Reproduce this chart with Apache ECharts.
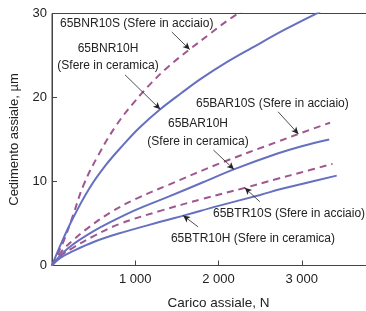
<!DOCTYPE html>
<html>
<head>
<meta charset="utf-8">
<script src="https://cdn.jsdelivr.net/npm/echarts@6/dist/echarts.min.js"></script>
<style>
  html, body { margin: 0; padding: 0; background: #fff; }
  #chart { width: 366px; height: 311px; }
</style>
</head>
<body>
<div id="chart"></div>
<script>
// Valori: [carico N, cedimento µm]
const bnr10s = [[0, 0], [70, 1.4], [140, 2.9], [250, 5.9], [380, 9.6], [560, 13.2], [780, 16.8], [1000, 19.6], [1200, 21.8], [1400, 23.7], [1650, 25.7], [1900, 27.6], [2100, 29.1], [2280, 30.3]];
const bnr10h = [[0, 0], [100, 2.4], [250, 5.6], [450, 9.2], [650, 12.0], [850, 14.3], [1050, 16.4], [1300, 18.6], [1550, 20.5], [1800, 22.3], [2100, 24.2], [2400, 25.9], [2800, 28.1], [3220, 30.2]];
const bar10s = [[0, 0], [100, 1.5], [250, 3.0], [450, 4.6], [700, 6.3], [1000, 7.9], [1400, 9.6], [2000, 12.1], [2700, 14.7], [3000, 15.8], [3340, 17.0]];
const bar10h = [[0, 0], [100, 1.2], [250, 2.5], [500, 4.1], [750, 5.4], [1000, 6.6], [1400, 8.2], [1800, 9.85], [2200, 11.5], [2700, 13.3], [3000, 14.2], [3330, 15.0]];
const btr10s = [[0, 0], [100, 1.1], [250, 2.1], [500, 3.5], [800, 4.9], [1300, 6.5], [1800, 7.9], [2300, 9.2], [2700, 10.3], [3000, 11.1], [3370, 12.1]];
const btr10h = [[0, 0], [100, 0.9], [250, 1.7], [500, 2.8], [800, 3.8], [1300, 5.2], [1600, 6.0], [2000, 7.1], [2500, 8.4], [2750, 9.1], [3000, 9.7], [3420, 10.7]];

const yTicks = [0, 10, 20, 30];
const xTicks = [1000, 2000, 3000];

// frecce: [partenza, punta] in coordinate dei dati
const arrows = {
    bnr10s: [[1439, 27.8], [1655, 25.7]],
    bnr10h: [[877, 22.7], [1300, 18.6]],
    bar10s: [[2716, 18.3], [2960, 15.65]],
    bar10h: [[1939, 13.75], [2185, 11.45]],
    btr10s: [[2496, 7.6], [2316, 9.25]],
    btr10h: [[1755, 4.6], [1575, 5.95]]
};

const blue = '#6670c0';
const mauve = '#a0568e';

function curve(name, data, dashed, arrow) {
    return {
        name: name,
        type: 'line',
        data: data,
        smooth: 0.4,
        showSymbol: false,
        clip: true,
        lineStyle: {
            color: dashed ? mauve : blue,
            width: 2,
            type: dashed ? [7, 5] : 'solid'
        },
        markLine: {
            silent: true,
            symbol: ['none', 'arrow'],
            symbolSize: [5, 7],
            label: { show: false },
            lineStyle: { color: '#222', width: 0.8, type: 'solid' },
            data: [[{ coord: arrow[0] }, { coord: arrow[1] }]]
        }
    };
}

function label(text, x, y, align) {
    return {
        type: 'text',
        x: x,
        y: y,
        style: {
            text: text,
            fill: '#222',
            font: '12px "Liberation Sans", Arial, sans-serif',
            align: align || 'left',
            verticalAlign: 'middle'
        }
    };
}

const chart = echarts.init(document.getElementById('chart'));

chart.setOption({
    animation: false,
    grid: {
        left: 52,
        right: -19,
        top: 13.5,
        bottom: 45.5,
        outerBoundsMode: 'none',
        containLabel: false,
        show: true,
        borderColor: '#444',
        borderWidth: 1
    },
    xAxis: {
        type: 'value',
        min: 0,
        max: 4000,
        interval: 1000,
        name: 'Carico assiale, N',
        nameLocation: 'middle',
        nameGap: 31,
        nameTextStyle: { fontSize: 13.5, color: '#222', fontFamily: 'Liberation Sans' },
        axisLine: { show: true, lineStyle: { color: '#444', width: 1 } },
        axisTick: { show: true, inside: true, length: 5, lineStyle: { color: '#444' } },
        axisLabel: {
            fontSize: 13, color: '#222', fontFamily: 'Liberation Sans', margin: 7,
            formatter: v => xTicks.includes(v) ? String(v).replace(/(\d)(\d{3})$/, '$1 $2') : ''
        },
        splitLine: { show: false }
    },
    yAxis: {
        type: 'value',
        min: 0,
        max: 30,
        interval: 10,
        name: 'Cedimento assiale, µm',
        nameLocation: 'middle',
        nameGap: 31,
        nameTextStyle: { fontSize: 13, color: '#222', fontFamily: 'Liberation Sans' },
        axisLine: { show: true, lineStyle: { color: '#444', width: 1 } },
        axisTick: { show: true, inside: true, length: 5, lineStyle: { color: '#444' } },
        axisLabel: {
            fontSize: 13, color: '#222', fontFamily: 'Liberation Sans', margin: 5,
            formatter: v => yTicks.includes(v) ? String(v) : ''
        },
        splitLine: { show: false }
    },
    series: [
        curve('65BNR10S', bnr10s, true, arrows.bnr10s),
        curve('65BNR10H', bnr10h, false, arrows.bnr10h),
        curve('65BAR10S', bar10s, true, arrows.bar10s),
        curve('65BAR10H', bar10h, false, arrows.bar10h),
        curve('65BTR10S', btr10s, true, arrows.btr10s),
        curve('65BTR10H', btr10h, false, arrows.btr10h)
    ],
    graphic: [
        label('65BNR10S (Sfere in acciaio)', 60, 24),
        label('65BNR10H', 108, 49, 'center'),
        label('(Sfere in ceramica)', 108, 65.5, 'center'),
        label('65BAR10S (Sfere in acciaio)', 196, 104),
        label('65BAR10H', 198, 124, 'center'),
        label('(Sfere in ceramica)', 198, 141.5, 'center'),
        label('65BTR10S (Sfere in acciaio)', 213, 214),
        label('65BTR10H (Sfere in ceramica)', 335, 239, 'right')
    ]
});

window.addEventListener('resize', () => chart.resize());
</script>
</body>
</html>
